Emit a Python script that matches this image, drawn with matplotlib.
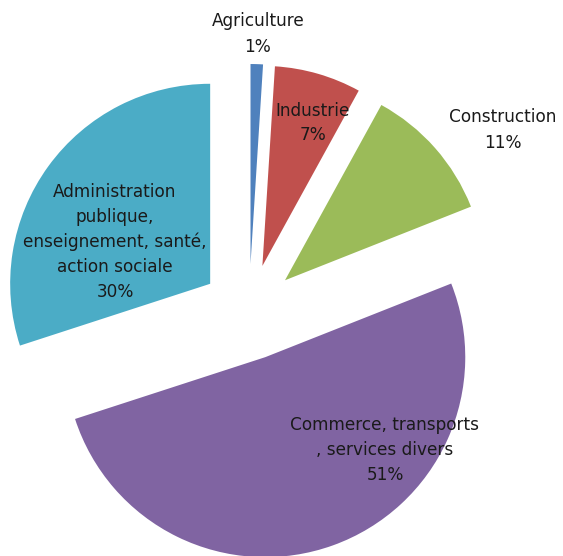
import matplotlib
matplotlib.use('Agg')

import matplotlib.pyplot as plt
import numpy as np

secteurs = ['Agriculture', 'Industrie', 'Construction',
            'Commerce, transports\n, services divers',
            'Administration\npublique,\nenseignement, santé,\naction sociale']
parts = [1, 7, 11, 51, 30]
couleurs = ['#4F81BD', '#C0504D', '#9BBB59', '#8064A2', '#4BACC6']

# where each label sits (pie units, centre of the unexploded pie)
pos_labels = [(0.045, 1.39), (0.32, 0.945), (1.27, 0.91), (0.68, -0.69), (-0.67, 0.35)]

fig = plt.figure(figsize=(5.63, 5.56), dpi=100)
ax = fig.add_axes([0, 0, 1, 1])

ax.pie(parts, colors=couleurs, startangle=90, counterclock=False,
       explode=[0.24] * len(parts), radius=1.0,
       wedgeprops={'linewidth': 0})

for nom, v, (x, y) in zip(secteurs, parts, pos_labels):
    ax.text(x, y, f"{nom}\n{v}%", ha='center', va='center',
            fontsize=12.2, color='#1a1a1a', linespacing=1.5)

cx, cy, r = 249, 244, 200
ax.set_xlim(-cx / r, (563 - cx) / r)
ax.set_ylim(-cy / r, (556 - cy) / r)
ax.set_aspect('auto')
ax.axis('off')

plt.savefig('out.png', dpi=100)
